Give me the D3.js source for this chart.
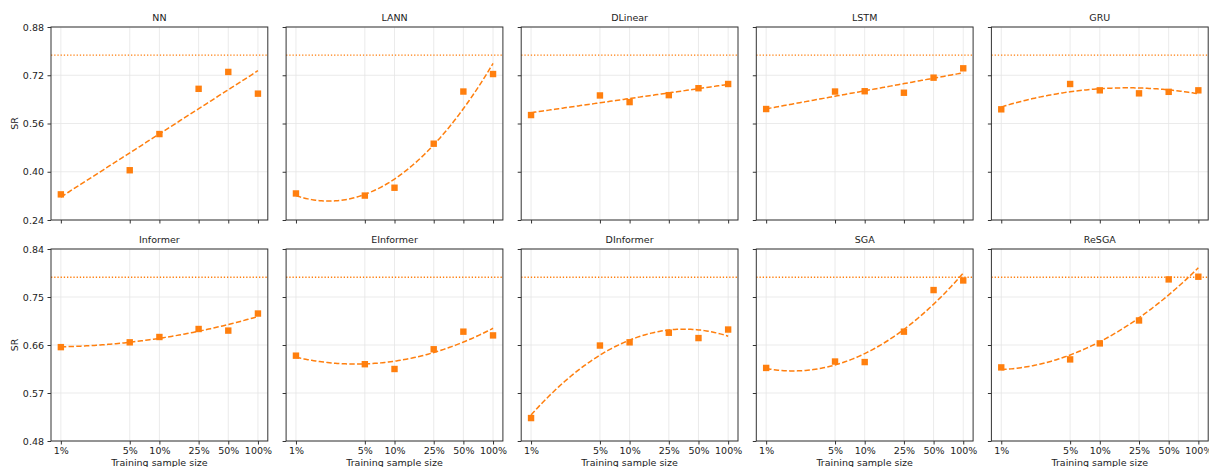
<!DOCTYPE html>
<html>
<head>
<meta charset="utf-8">
<script src="https://cdn.jsdelivr.net/npm/d3@7"></script>
<style>
  body { margin: 0; background: #fff; }
  svg { display: block; }
  text { font-family: "DejaVu Sans", sans-serif; fill: #222; }
</style>
</head>
<body>
<div id="chart"></div>
<script>
// training sample size (%) on a log axis
const sizes = [1, 5, 10, 25, 50, 100];
const sizeLabels = ['1%', '5%', '10%', '25%', '50%', '100%'];

const models = ['NN', 'LANN', 'DLinear', 'LSTM', 'GRU',
                'Informer', 'EInformer', 'DInformer', 'SGA', 'ReSGA'];

// SR per training size
const srNN        = [0.325, 0.405, 0.525, 0.675, 0.731, 0.659];
const srLANN      = [0.328, 0.321, 0.347, 0.493, 0.666, 0.724];
const srDLinear   = [0.588, 0.653, 0.631, 0.654, 0.677, 0.691];
const srLSTM      = [0.608, 0.666, 0.667, 0.662, 0.712, 0.743];
const srGRU       = [0.607, 0.691, 0.670, 0.660, 0.665, 0.670];
const srInformer  = [0.656, 0.665, 0.675, 0.690, 0.687, 0.719];
const srEInformer = [0.640, 0.624, 0.615, 0.652, 0.685, 0.678];
const srDInformer = [0.523, 0.659, 0.665, 0.683, 0.673, 0.689];
const srSGA       = [0.617, 0.629, 0.628, 0.685, 0.763, 0.781];
const srReSGA     = [0.618, 0.633, 0.663, 0.706, 0.783, 0.788];

const series = [srNN, srLANN, srDLinear, srLSTM, srGRU,
                srInformer, srEInformer, srDInformer, srSGA, srReSGA];

// degree of the polynomial trend (in log size) drawn for each model
const fitDegree = [1, 2, 1, 1, 2, 2, 2, 2, 2, 2];

// dotted reference level per row
const refLevel = [0.787, 0.787];

const yTicksTop = [0.24, 0.40, 0.56, 0.72, 0.88];
const yTicksBottom = [0.48, 0.57, 0.66, 0.75, 0.84];
const rowTicks = [yTicksTop, yTicksBottom];

// ---- layout ----
const W = 1209, H = 467;
const left0 = 51, colStep = 235.1, panelW = 216.8;
const rowTop = [27, 249], rowBottom = [220, 441];
const orange = '#ff7f0e';
const fs = 9.5;

// least squares polynomial fit
function polyfit(xs, ys, deg) {
  const n = deg + 1;
  const A = Array.from({length: n}, () => new Array(n + 1).fill(0));
  xs.forEach((x, k) => {
    for (let i = 0; i < n; i++) {
      for (let j = 0; j < n; j++) A[i][j] += Math.pow(x, i + j);
      A[i][n] += ys[k] * Math.pow(x, i);
    }
  });
  for (let c = 0; c < n; c++) {
    let p = c;
    for (let r = c + 1; r < n; r++) if (Math.abs(A[r][c]) > Math.abs(A[p][c])) p = r;
    [A[c], A[p]] = [A[p], A[c]];
    for (let r = 0; r < n; r++) {
      if (r === c) continue;
      const f = A[r][c] / A[c][c];
      for (let j = c; j <= n; j++) A[r][j] -= f * A[c][j];
    }
  }
  return A.map((row, i) => row[n] / row[i]);
}

const svg = d3.select('#chart').append('svg')
  .attr('width', W).attr('height', H);

models.forEach((name, idx) => {
  const row = Math.floor(idx / 5), col = idx % 5;
  const ticks = rowTicks[row];
  const x0 = left0 + col * colStep;
  const y0 = rowTop[row];
  const h = rowBottom[row] - rowTop[row];

  const x = d3.scaleLog().domain([Math.pow(10, -0.1), Math.pow(10, 2.1)]).range([0, panelW]);
  const y = d3.scaleLinear().domain([ticks[0], ticks[ticks.length - 1]]).range([h, 0]);

  const g = svg.append('g').attr('transform', `translate(${x0},${y0})`);

  // grid
  g.append('g').selectAll('line').data(sizes).join('line')
    .attr('x1', d => x(d)).attr('x2', d => x(d))
    .attr('y1', 0).attr('y2', h)
    .attr('stroke', '#e6e6e6').attr('stroke-width', 0.8);
  g.append('g').selectAll('line').data(ticks).join('line')
    .attr('x1', 0).attr('x2', panelW)
    .attr('y1', d => y(d)).attr('y2', d => y(d))
    .attr('stroke', '#e6e6e6').attr('stroke-width', 0.8);

  // reference level
  g.append('line')
    .attr('x1', 0).attr('x2', panelW)
    .attr('y1', y(refLevel[row])).attr('y2', y(refLevel[row]))
    .attr('stroke', orange).attr('stroke-width', 1.3)
    .attr('stroke-dasharray', '1.3,1.9');

  // trend curve
  const vals = series[idx];
  const coef = polyfit(sizes.map(Math.log10), vals, fitDegree[idx]);
  const curve = d3.range(0, 2.0001, 0.02).map(lx => {
    const v = coef.reduce((s, c, i) => s + c * Math.pow(lx, i), 0);
    return [Math.pow(10, lx), v];
  });
  g.append('path').datum(curve)
    .attr('d', d3.line().x(d => x(d[0])).y(d => y(d[1])))
    .attr('fill', 'none').attr('stroke', orange)
    .attr('stroke-width', 1.5).attr('stroke-dasharray', '5.4,2.3');

  // markers
  g.append('g').selectAll('rect').data(vals).join('rect')
    .attr('x', (d, i) => x(sizes[i]) - 3.2)
    .attr('y', d => y(d) - 3.2)
    .attr('width', 6.4).attr('height', 6.4)
    .attr('fill', orange);

  // frame
  g.append('rect')
    .attr('x', 0).attr('y', 0).attr('width', panelW).attr('height', h)
    .attr('fill', 'none').attr('stroke', '#333').attr('stroke-width', 1);

  // axes
  const xAxis = d3.axisBottom(x).tickValues(sizes).tickSizeInner(3.5).tickSizeOuter(0).tickPadding(3)
    .tickFormat((d, i) => row === 1 ? sizeLabels[i] : '');
  const gx = g.append('g').attr('transform', `translate(0,${h})`).call(xAxis);
  const yAxis = d3.axisLeft(y).tickValues(ticks).tickSizeInner(3.5).tickSizeOuter(0).tickPadding(3.5)
    .tickFormat(d => col === 0 ? d3.format('.2f')(d) : '');
  const gy = g.append('g').call(yAxis);
  [gx, gy].forEach(a => {
    a.select('.domain').remove();
    a.selectAll('line').attr('stroke', '#333');
    a.selectAll('text').attr('font-size', fs).attr('font-family', '"DejaVu Sans", sans-serif').attr('fill', '#222');
  });

  // title
  g.append('text')
    .attr('x', panelW / 2).attr('y', -6)
    .attr('text-anchor', 'middle').attr('font-size', fs)
    .text(name);

  if (row === 1) {
    g.append('text')
      .attr('x', panelW / 2).attr('y', h + 24.5)
      .attr('text-anchor', 'middle').attr('font-size', fs)
      .text('Training sample size');
  }
  if (col === 0) {
    g.append('text')
      .attr('transform', `translate(${17.5 - x0},${h / 2}) rotate(-90)`)
      .attr('text-anchor', 'middle').attr('font-size', fs)
      .text('SR');
  }
});
</script>
</body>
</html>
